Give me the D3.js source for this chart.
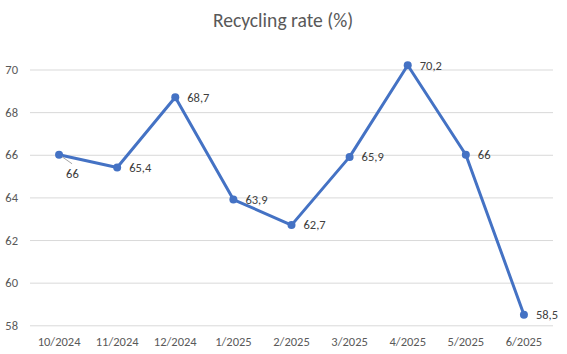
<!DOCTYPE html>
<html>
<head>
<meta charset="utf-8">
<script src="https://cdn.jsdelivr.net/npm/d3@7"></script>
<style>
  body { margin: 0; background: #fff; }
  text { font-family: Carlito, Calibri, "Open Sans", "Noto Sans", sans-serif; }
</style>
</head>
<body>
<script>
   // chart data
   let months = ['10/2024', '11/2024', '12/2024', '1/2025', '2/2025', '3/2025', '4/2025', '5/2025', '6/2025'];
   let rates = [66, 65.4, 68.7, 63.9, 62.7, 65.9, 70.2, 66, 58.5];
   let rateLabels = ['66', '65,4', '68,7', '63,9', '62,7', '65,9', '70,2', '66', '58,5'];
   let yTicks = [58, 60, 62, 64, 66, 68, 70];

   // canvas
   let width = 567;
   let height = 354;
   let plotLeft = 30;
   let plotRight = 553;
   let plotTop = 69.5;
   let plotBottom = 325.3;
   let textColor = '#595959';
   let lineColor = '#4472C4';
   let fontStack = 'Carlito, Calibri, "Open Sans", "Noto Sans", sans-serif';

   let svg = d3.select('body').append('svg')
      .attr('width', width)
      .attr('height', height);

   svg.append('text')
      .text('Recycling rate (%)')
      .attr('x', 283)
      .attr('y', 27)
      .attr('text-anchor', 'middle')
      .attr('font-size', 19.6)
      .attr('fill', textColor);

   // scales
   let xScale = d3.scaleBand()
      .domain(months)
      .range([plotLeft, plotRight]);
   let yScale = d3.scaleLinear()
      .domain([58, 70])
      .range([plotBottom, plotTop]);

   // gridlines + y labels
   let yAxis = d3.axisLeft(yScale)
      .tickValues(yTicks)
      .tickSize(-(plotRight - plotLeft))
      .tickPadding(12);
   let gy = svg.append('g')
      .attr('transform', 'translate(' + plotLeft + ', 0)')
      .call(yAxis);
   gy.select('.domain').remove();
   gy.selectAll('line').attr('stroke', '#d9d9d9').attr('stroke-width', 1);
   gy.selectAll('text')
      .attr('fill', textColor)
      .attr('font-size', 12.5)
      .attr('font-family', fontStack);

   // x labels
   let xAxis = d3.axisBottom(xScale).tickSize(0).tickPadding(12);
   let gx = svg.append('g')
      .attr('transform', 'translate(0, ' + plotBottom + ')')
      .call(xAxis);
   gx.select('.domain').remove();
   gx.selectAll('text')
      .attr('fill', textColor)
      .attr('font-size', 12.5)
      .attr('font-family', fontStack);

   let cx = (d, i) => xScale(months[i]) + xScale.bandwidth() / 2;

   // line
   let line = d3.line()
      .x((d, i) => cx(d, i))
      .y((d) => yScale(d));
   svg.append('path')
      .datum(rates)
      .attr('d', line)
      .attr('fill', 'none')
      .attr('stroke', lineColor)
      .attr('stroke-width', 3)
      .attr('stroke-linejoin', 'round');

   svg.selectAll('circle.pt')
      .data(rates)
      .enter()
      .append('circle')
      .attr('class', 'pt')
      .attr('cx', cx)
      .attr('cy', (d) => yScale(d))
      .attr('r', 4)
      .attr('fill', lineColor);

   // data labels (first one sits below-right with a leader line)
   svg.append('line')
      .attr('x1', cx(rates[0], 0) + 3)
      .attr('y1', yScale(rates[0]) + 2)
      .attr('x2', cx(rates[0], 0) + 13)
      .attr('y2', yScale(rates[0]) + 9)
      .attr('stroke', '#a6a6a6')
      .attr('stroke-width', 1);

   svg.selectAll('text.lbl')
      .data(rates)
      .enter()
      .append('text')
      .attr('class', 'lbl')
      .text((d, i) => rateLabels[i])
      .attr('x', (d, i) => cx(d, i) + (i === 0 ? 7 : 12))
      .attr('y', (d, i) => yScale(d) + (i === 0 ? 19 : 0))
      .attr('dy', '0.35em')
      .attr('font-size', 12.5)
      .attr('fill', '#404040');
</script>
</body>
</html>
